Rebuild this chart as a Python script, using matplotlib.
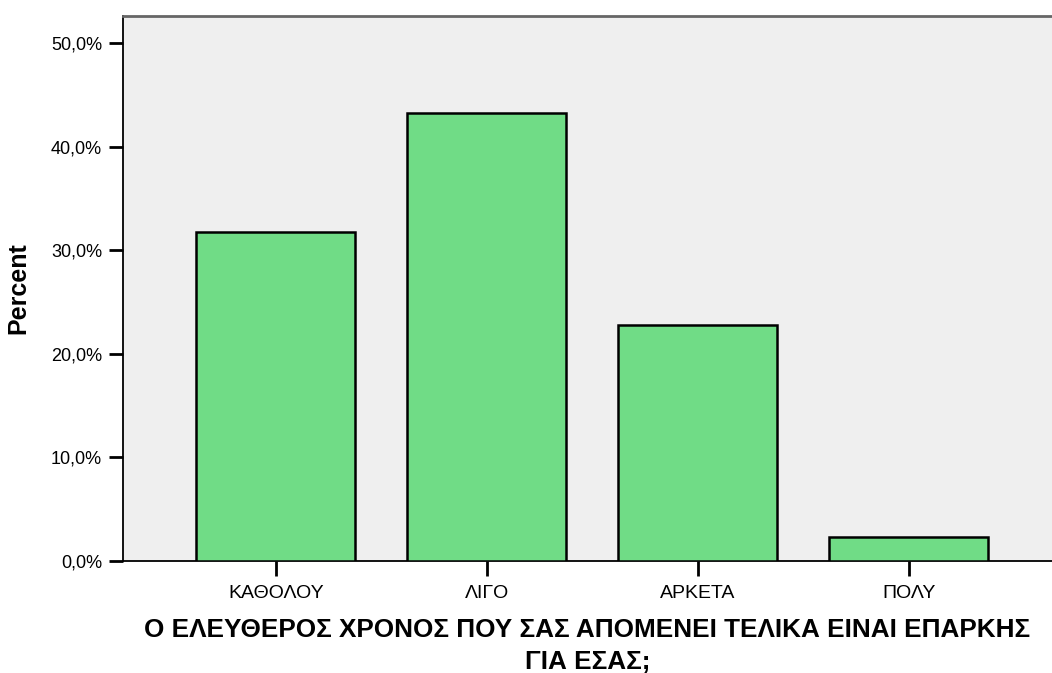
import matplotlib
matplotlib.use("Agg")
import matplotlib.pyplot as plt
from matplotlib.ticker import FuncFormatter

plt.rcParams["font.family"] = ["Liberation Sans", "DejaVu Sans"]

# --- Data ---
categories = ["ΚΑΘΟΛΟΥ", "ΛΙΓΟ", "ΑΡΚΕΤΑ", "ΠΟΛΥ"]
percent = [31.8, 43.2, 22.8, 2.3]
y_ticks = [0, 10, 20, 30, 40, 50]
x_title = "Ο ΕΛΕΥΘΕΡΟΣ ΧΡΟΝΟΣ ΠΟΥ ΣΑΣ ΑΠΟΜΕΝΕΙ ΤΕΛΙΚΑ ΕΙΝΑΙ ΕΠΑΡΚΗΣ\nΓΙΑ ΕΣΑΣ;"
y_title = "Percent"

fig = plt.figure(figsize=(10.52, 6.73), dpi=100)
ax = fig.add_axes([0.1169, 0.1664, 0.8831, 0.8098])
ax.set_facecolor("#efefef")

x = list(range(len(categories)))
ax.bar(x, percent, width=0.754, color="#70dc86", edgecolor="black",
       linewidth=1.8, zorder=3)

ax.set_xlim(-0.725, 3.678)
ax.set_ylim(0, 52.6)
ax.set_yticks(y_ticks)
ax.yaxis.set_major_formatter(FuncFormatter(lambda v, p: f"{v:.1f}%".replace(".", ",")))
ax.set_xticks(x)
ax.set_xticklabels(categories)

ax.tick_params(axis="y", length=10, width=2, pad=5, labelsize=13, colors="black")
ax.tick_params(axis="x", length=11, width=2, pad=6, labelsize=14, colors="black")

for side in ["left", "bottom"]:
    ax.spines[side].set_color("black")
    ax.spines[side].set_linewidth(1.3)
ax.spines["top"].set_color("#666666")
ax.spines["top"].set_linewidth(2)
ax.spines["right"].set_visible(False)

ax.set_xlabel(x_title, fontsize=18.8, fontweight="bold", labelpad=12,
              linespacing=1.4)
ax.set_ylabel(y_title, fontsize=18, fontweight="bold", labelpad=15)

fig.savefig("out.png", dpi=100)
